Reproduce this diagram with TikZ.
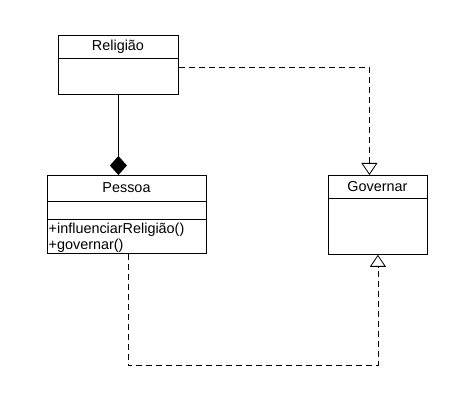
\documentclass[tikz,border=0pt]{standalone}
\usepackage{fontspec}
\setmainfont{Liberation Sans}
\usetikzlibrary{arrows.meta}
\begin{document}
\begin{tikzpicture}[x=1pt,y=-1pt,
  font=\fontsize{14.4}{16}\selectfont,
  umlbox/.style={draw, line width=0.8pt, anchor=north west, inner sep=0pt},
  divider/.style={line width=0.8pt},
  lbl/.style={inner sep=0pt, anchor=center},
  mlbl/.style={inner sep=0pt, anchor=west},
  realize/.style={line width=0.8pt, dash pattern=on 6pt off 4pt, -{Triangle[open, fill=white, length=12pt, width=16pt]}},
  compose/.style={line width=0.8pt, -{Diamond[fill=black, length=19pt, width=17pt]}}
]
\useasboundingbox (0,0) rectangle (465,419);
% Religiao
\node[umlbox, minimum width=120pt, minimum height=59pt] (rel) at (58,35) {};
\draw[divider] (58,58) -- (178,58);
\node[lbl] (reltitle) at (118,46.5) {Religião};
% Pessoa
\node[umlbox, minimum width=159pt, minimum height=78pt] (pes) at (47,175) {};
\draw[divider] (47,201) -- (206,201);
\draw[divider] (47,219) -- (206,219);
\node[lbl] (pestitle) at (126.5,188) {Pessoa};
\node[mlbl] (m1) at (48.5,230) {+influenciarReligião()};
\node[mlbl] (m2) at (48.5,246) {+governar()};
% Governar
\node[umlbox, minimum width=99pt, minimum height=79pt] (gov) at (328,175) {};
\draw[divider] (328,198) -- (427,198);
\node[lbl] (govtitle) at (377.5,186.5) {Governar};
% connectors
\draw[compose] (rel.south) -- (rel.south |- pes.north);
\draw[realize] ([yshift=-2.5pt]rel.east) -| ([xshift=-8.5pt]gov.north);
\draw[realize] ([xshift=1.5pt]pes.south) -- ++(0,112) -| (gov.south);
\end{tikzpicture}
\end{document}
